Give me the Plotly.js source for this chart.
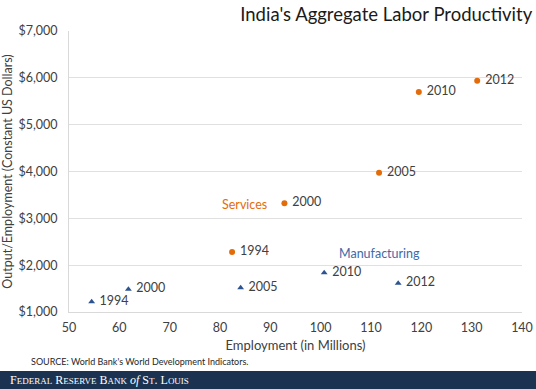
<!DOCTYPE html>
<html>
<head>
<meta charset="utf-8">
<script src="https://cdn.plot.ly/plotly-3.0.1.min.js"></script>
<style>html,body{margin:0;padding:0;background:#fff;}#chart{width:536px;height:389px;}</style>
</head>
<body>
<div id="chart"></div>
<script>
var years = ["1994", "2000", "2005", "2010", "2012"];
var servicesEmployment = [82.4, 92.8, 111.6, 119.5, 131.1];
var servicesProductivity = [2280, 3320, 3975, 5700, 5940];
var manufacturingEmployment = [54.5, 61.8, 84.1, 100.7, 115.4];
var manufacturingProductivity = [1220, 1485, 1520, 1840, 1615];

var FONT = "Lato, 'Open Sans', sans-serif";
var textFont = {family: FONT, size: 12.5, color: "#404040"};
var labels = years.map(function (y) { return "\u00a0" + y; });

var traces = [
  {
    type: "scatter", mode: "markers+text", name: "Services",
    x: servicesEmployment, y: servicesProductivity, text: labels,
    textposition: "middle right", textfont: textFont,
    marker: {symbol: "circle", size: 6, color: "#e36c0a"},
    cliponaxis: false, hoverinfo: "skip"
  },
  {
    type: "scatter", mode: "markers+text", name: "Manufacturing",
    x: manufacturingEmployment, y: manufacturingProductivity, text: labels,
    textposition: "middle right", textfont: textFont,
    marker: {symbol: "triangle-up", size: 6, color: "#2c5491"},
    cliponaxis: false, hoverinfo: "skip"
  }
];

var layout = {
  width: 536, height: 389,
  margin: {l: 69, r: 14, t: 31, b: 77},
  paper_bgcolor: "#ffffff", plot_bgcolor: "#ffffff",
  showlegend: false,
  font: {family: FONT, color: "#404040"},
  title: {
    text: "India's Aggregate Labor Productivity",
    font: {family: FONT, size: 18.5, color: "#1a1a1a"},
    x: 0.993, xanchor: "right", xref: "container", y: 0.962, yanchor: "middle", yref: "container"
  },
  xaxis: {
    range: [50, 140], dtick: 10, tick0: 50,
    showgrid: false, zeroline: false,
    showline: true, linecolor: "#d9d9d9", linewidth: 1,
    ticks: "", ticklabelstandoff: 4,
    tickfont: {family: FONT, size: 12.5, color: "#404040"},
    title: {text: "Employment (in Millions)", font: {family: FONT, size: 13, color: "#404040"}, standoff: 6}
  },
  yaxis: {
    range: [1000, 7000], dtick: 1000, tick0: 1000,
    tickprefix: "$", tickformat: ",d",
    showgrid: true, gridcolor: "#e0e0e0", gridwidth: 1, zeroline: false,
    showline: true, linecolor: "#d9d9d9", linewidth: 1,
    ticks: "", ticklabelstandoff: 8,
    tickfont: {family: FONT, size: 12.5, color: "#404040"},
    title: {text: "Output/Employment (Constant US Dollars)", font: {family: FONT, size: 12.5, color: "#404040"}, standoff: 4}
  },
  shapes: [
    {type: "rect", xref: "paper", yref: "paper", x0: -0.2, x1: 1.1, y0: -0.275, y1: -0.2, layer: "below", line: {width: 0}, fillcolor: "#1b3351"}
  ],
  annotations: [
    {x: 84.9, y: 3285, xref: "x", yref: "y", text: "Services", showarrow: false,
     font: {family: FONT, size: 12.5, color: "#e46c0a"}},
    {x: 111.65, y: 2240, xref: "x", yref: "y", text: "Manufacturing", showarrow: false,
     font: {family: FONT, size: 12.5, color: "#3d6aa8"}},
    {x: 29, y: 361, xref: "paper", yref: "paper", text: "SOURCE: World Bank's World Development Indicators.", showarrow: false,
     font: {family: FONT, size: 9, color: "#262626"}, xanchor: "left", yanchor: "middle"},
    {x: 8, y: 380, text: "F<span style='font-size:9px'>EDERAL</span> R<span style='font-size:9px'>ESERVE</span> B<span style='font-size:9px'>ANK</span> <i>of</i> S<span style='font-size:9px'>T</span>. L<span style='font-size:9px'>OUIS</span>", showarrow: false,
     font: {family: "'Liberation Serif', serif", size: 12, color: "#ffffff"}, xanchor: "left", yanchor: "middle"}
  ]
};

// convert pixel-positioned annotations to paper coordinates
(function () {
  var w = 536 - 69 - 14, h = 389 - 31 - 77;
  var src = layout.annotations[2];
  src.x = (src.x - 69) / w; src.y = (389 - 77 - src.y) / h;
  var ft = layout.annotations[3];
  ft.xref = "paper"; ft.yref = "paper";
  ft.x = (ft.x - 69) / w; ft.y = (389 - 77 - ft.y) / h;
  var r = layout.shapes[0];
  r.x0 = (0 - 69) / w; r.x1 = (536 - 69) / w;
  r.y0 = (389 - 77 - 389) / h; r.y1 = (389 - 77 - 371) / h;
})();

Plotly.newPlot("chart", traces, layout, {displayModeBar: false, staticPlot: true});
</script>
</body>
</html>
